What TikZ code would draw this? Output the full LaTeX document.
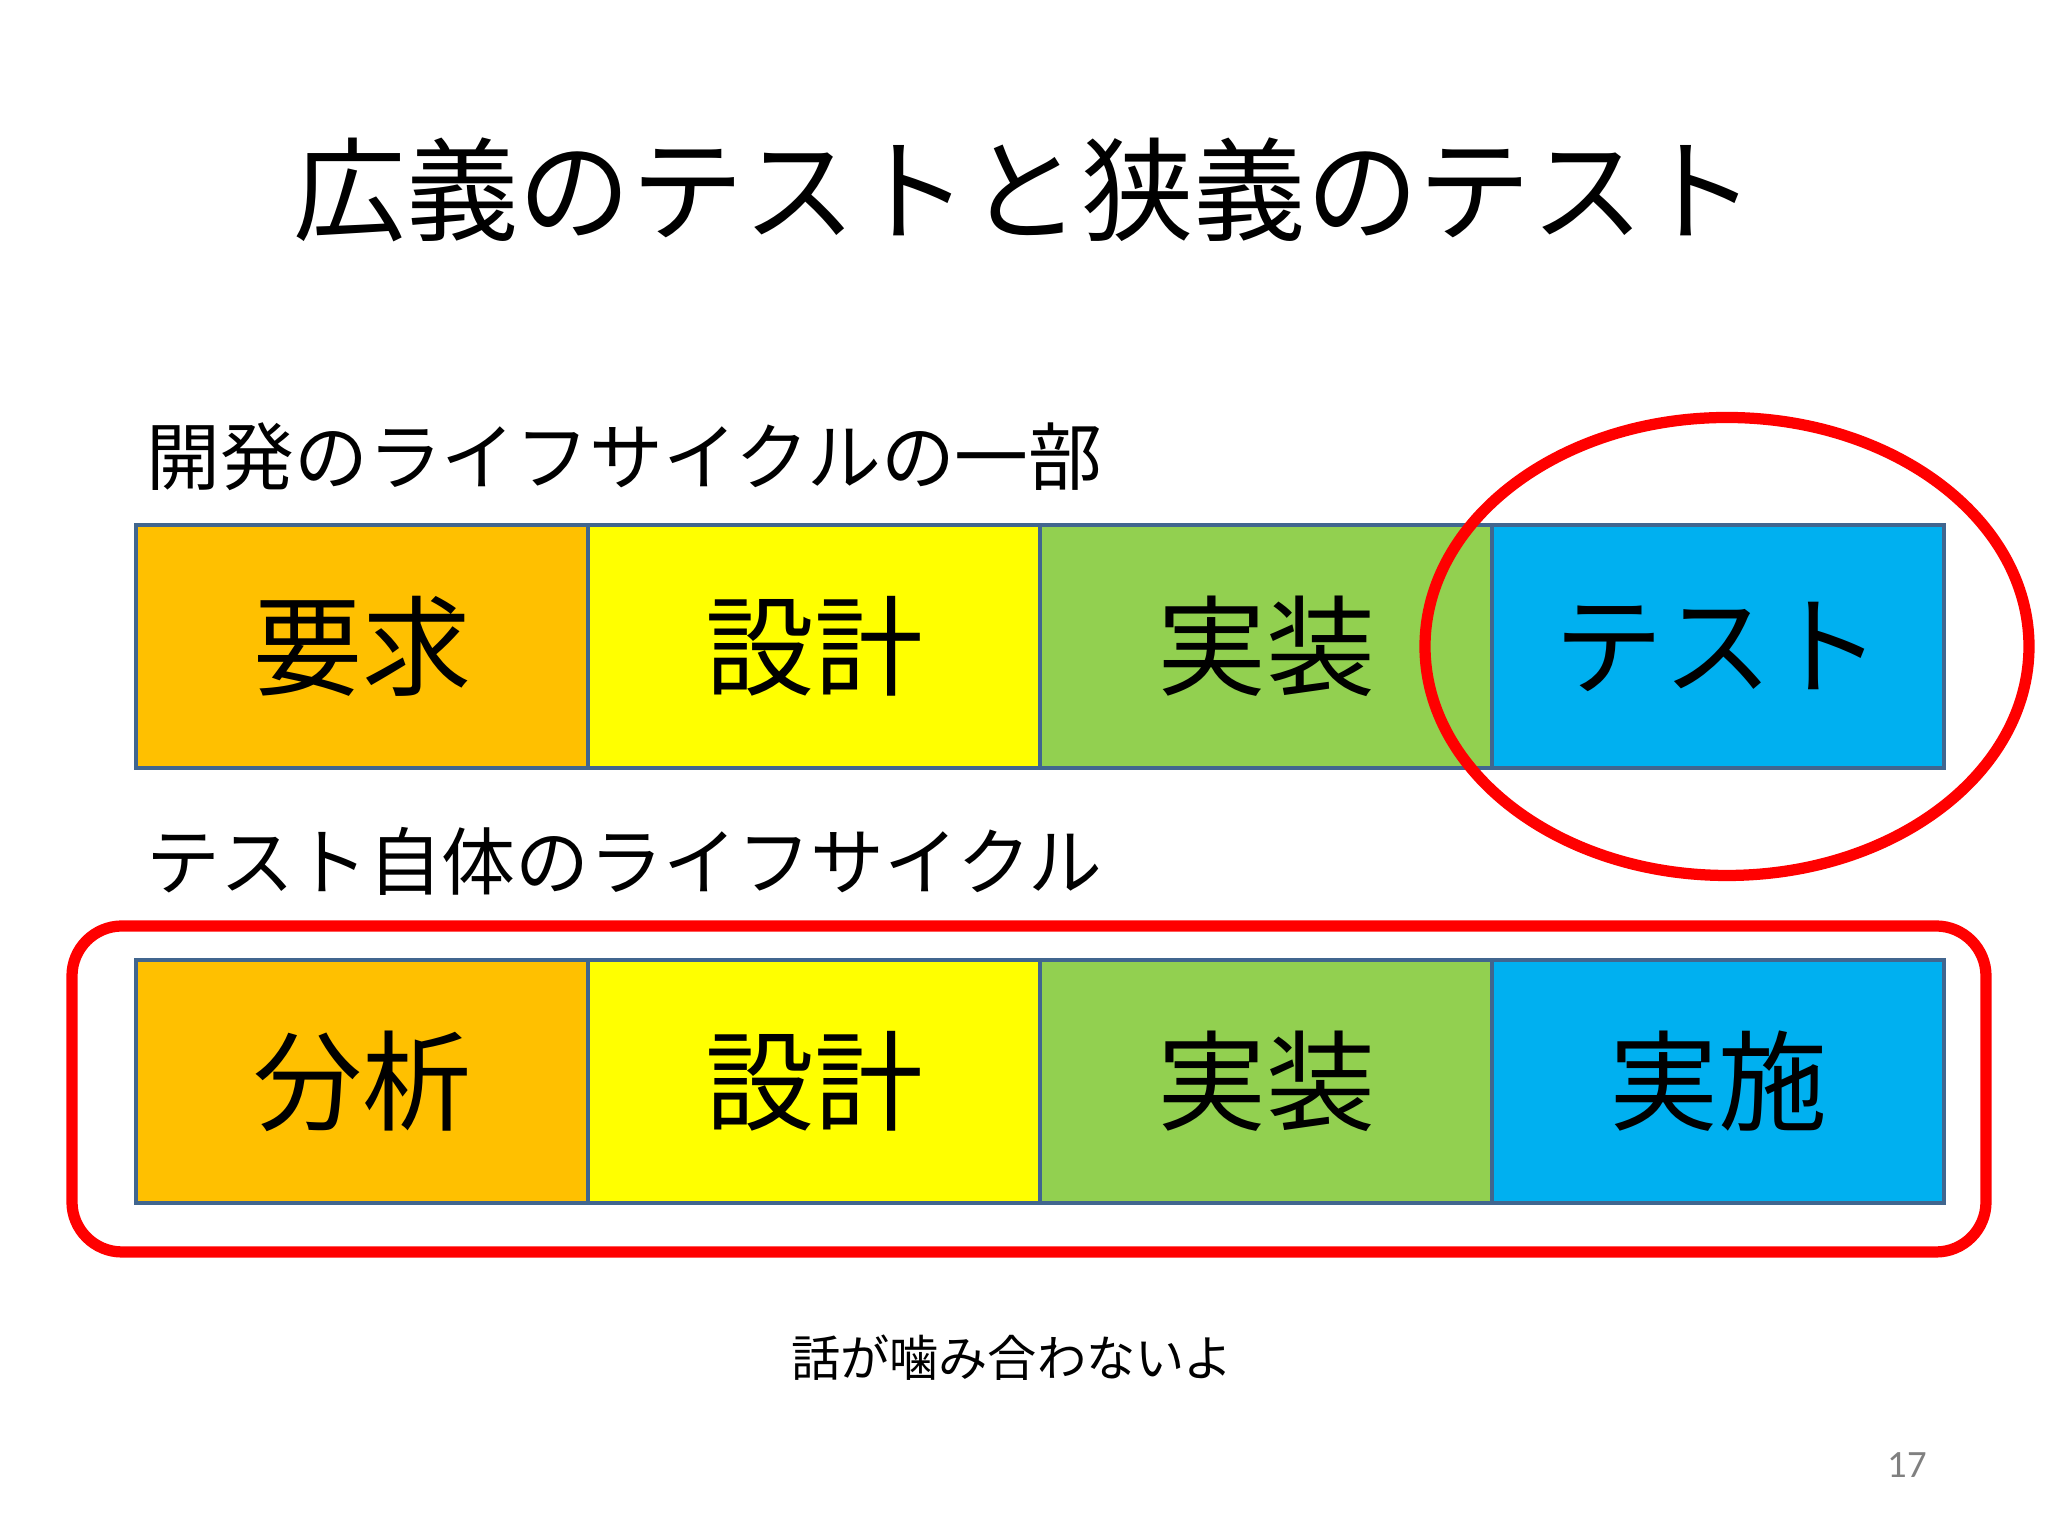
\documentclass[tikz,border=0pt]{standalone}
\usepackage{fontspec}
\setmainfont{Noto Sans CJK JP}
\newfontfamily\pagefont{Carlito}
\usetikzlibrary{positioning}
\definecolor{phorange}{HTML}{FFC000}
\definecolor{phyellow}{HTML}{FFFF00}
\definecolor{phgreen}{HTML}{92D050}
\definecolor{phblue}{HTML}{00B0F0}
\definecolor{phedge}{HTML}{41668F}
\tikzset{
  phase/.style={draw=phedge, line width=0.9pt, minimum width=4.52cm, minimum height=2.43cm,
    inner sep=0pt, outer sep=0pt, font=\fontsize{31}{31}\selectfont},
  sublabel/.style={anchor=west, inner sep=0pt, font=\fontsize{21}{21}\selectfont},
  redmark/.style={draw=red, line width=3.2pt}
}
\begin{document}
\begin{tikzpicture}[node distance=0pt]
		\useasboundingbox (0,0) rectangle (20.48,15.36);
		% Titolo
		\node (title) at (10.25,13.46) {\fontsize{32}{32}\selectfont 広義のテストと狭義のテスト};
		% Ciclo di sviluppo
		\node [sublabel] (dev) at (1.46,10.79) {開発のライフサイクルの一部};
		\node [phase, fill=phorange] (req) at (3.62,8.895) {要求};
		\node [phase, fill=phyellow, right=of req] (des) {設計};
		\node [phase, fill=phgreen, right=of des] (imp) {実装};
		\node [phase, fill=phblue, right=of imp] (test) {テスト};
		\draw [redmark] ([xshift=0.09cm]test.center) ellipse [x radius=3.02cm, y radius=2.29cm];
		% Ciclo della prova
		\node [sublabel] (tst) at (1.46,6.75) {テスト自体のライフサイクル};
		\node [phase, fill=phorange] (ana) at (3.62,4.545) {分析};
		\node [phase, fill=phyellow, right=of ana] (tdes) {設計};
		\node [phase, fill=phgreen, right=of tdes] (timp) {実装};
		\node [phase, fill=phblue, right=of timp] (exe) {実施};
		\draw [redmark, rounded corners=0.5cm] ([shift={(-0.64,0.34)}]ana.north west) rectangle ([shift={(0.42,-0.49)}]exe.south east);
		% Note
		\node (note) at (10.12,1.78) {\fontsize{14}{14}\selectfont 話が噛み合わないよ};
		\node [text=gray] (page) at (19.07,0.71) {\pagefont\fontsize{11}{11}\selectfont 17};
	\end{tikzpicture}
\end{document}
